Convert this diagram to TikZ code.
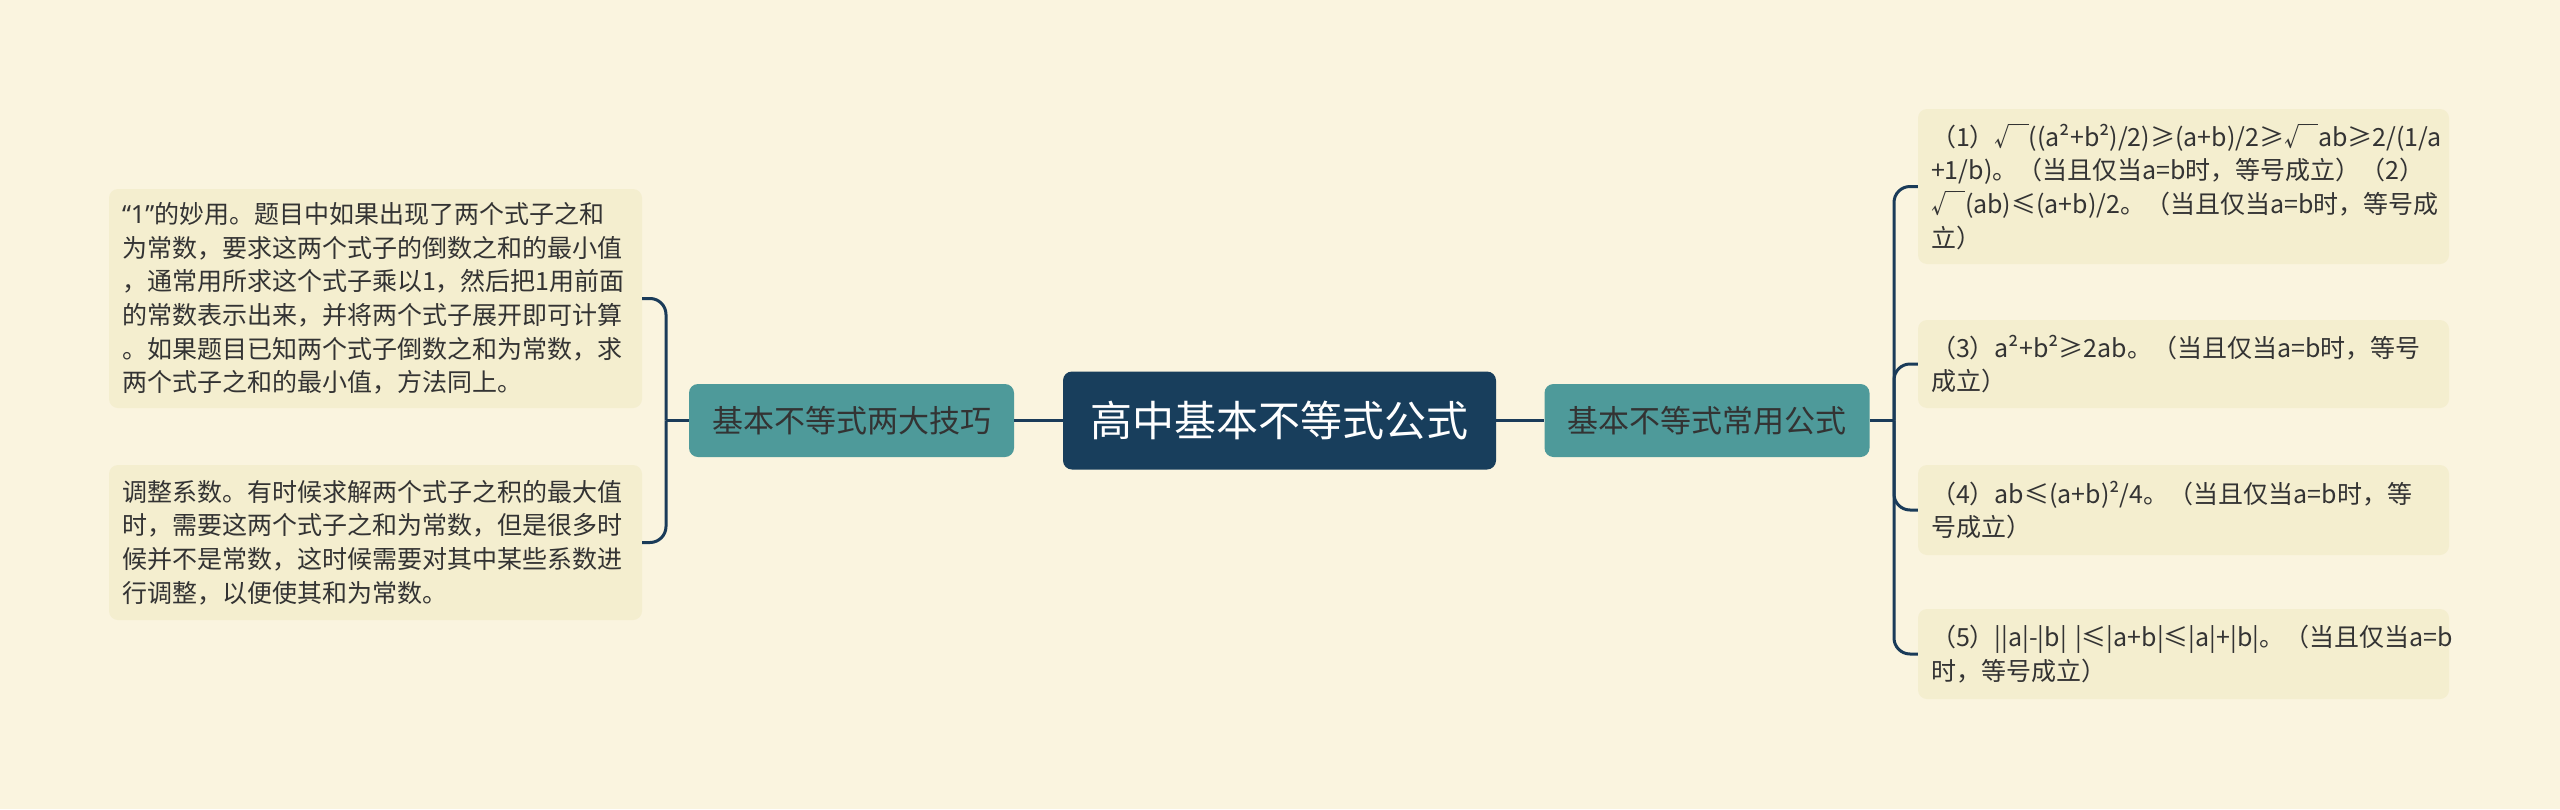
\documentclass[tikz,border=0pt]{standalone}
\usepackage{fontspec}
\setmainfont{Noto Sans CJK SC}
\newfontfamily\latfont{Noto Sans}
\newcommand\mysq{√\kern-0.06em\rule[0.86em]{0.42em}{0.05em}}
\definecolor{bgc}{HTML}{FAF4DF}
\definecolor{leafc}{HTML}{F4EECF}
\definecolor{rootc}{HTML}{183E5C}
\definecolor{tealc}{HTML}{4E9A9A}
\definecolor{linec}{HTML}{1A3B59}
\definecolor{textc}{HTML}{333333}
\begin{document}
\begin{tikzpicture}[x=1pt,y=-1pt,
  rootbox/.style={fill=rootc, rounded corners=9pt, text=white, font=\fontsize{42}{50}\selectfont, inner sep=0pt, minimum width=433pt, minimum height=98pt},
  branchbox/.style={fill=tealc, rounded corners=9pt, text=textc, font=\fontsize{31}{38}\selectfont, inner sep=0pt, minimum width=325pt, minimum height=73pt},
  leafbox/.style={fill=leafc, rounded corners=9pt, text=textc, font=\fontsize{25}{33.6}\selectfont, align=left, inner xsep=13pt, inner ysep=0pt},
  conn/.style={draw=linec, line width=3pt},
  bconn/.style={draw=linec, line width=3pt, rounded corners=16pt}]
\useasboundingbox[fill=bgc] (0,0) rectangle (2560,809);

\node[rootbox] (root) at (1279.5,420.5) {高中基本不等式公式};
\node[branchbox] (lb) at (851.5,420.5) {基本不等式两大技巧};
\node[branchbox] (rb) at (1707,420.5) {基本不等式常用公式};

\node[leafbox, text width=507pt, minimum height=219pt] (ll1) at (375.5,298.5) {{\latfont “1”}的妙用。题目中如果出现了两个式子之和\\为常数，要求这两个式子的倒数之和的最小值\\，通常用所求这个式子乘以1，然后把1用前面\\的常数表示出来，并将两个式子展开即可计算\\。如果题目已知两个式子倒数之和为常数，求\\两个式子之和的最小值，方法同上。};
\node[leafbox, text width=507pt, minimum height=155pt] (ll2) at (375.5,542.5) {调整系数。有时候求解两个式子之积的最大值\\时，需要这两个式子之和为常数，但是很多时\\候并不是常数，这时候需要对其中某些系数进\\行调整，以便使其和为常数。};

\node[leafbox, text width=505pt, minimum height=155pt] (rl1) at (2183.5,186.5) {（1）\mysq((a²+b²)/2)≥(a+b)/2≥\mysq ab≥2/(1/a\\+1/b)。（当且仅当a=b时，等号成立）（2）\\\mysq(ab)≤(a+b)/2。（当且仅当a=b时，等号成\\立）};
\node[leafbox, text width=505pt, minimum height=88pt] (rl2) at (2183.5,364) {（3）a²+b²≥2ab。（当且仅当a=b时，等号\\成立）};
\node[leafbox, text width=505pt, minimum height=90pt] (rl3) at (2183.5,510) {（4）ab≤(a+b)²/4。（当且仅当a=b时，等\\号成立）};
\node[leafbox, text width=505pt, minimum height=90pt] (rl4) at (2183.5,654) {（5）||a|-|b| |≤|a+b|≤|a|+|b|。（当且仅当a=b\\时，等号成立）};

\coordinate (lj) at (666,420.5);
\coordinate (rj) at (1894,420.5);

\draw[conn] (root.west) -- (lb.east);
\draw[conn] (root.east) -- (rb.west);
\draw[conn] (lb.west) -- (lj);
\draw[conn] (rb.east) -- (rj);
\draw[bconn] (lj) |- (ll1.east);
\draw[bconn] (lj) |- (ll2.east);
\draw[bconn] (rj) |- (rl1.west);
\draw[bconn] (rj) |- (rl2.west);
\draw[bconn] (rj) |- (rl3.west);
\draw[bconn] (rj) |- (rl4.west);
\end{tikzpicture}
\end{document}
